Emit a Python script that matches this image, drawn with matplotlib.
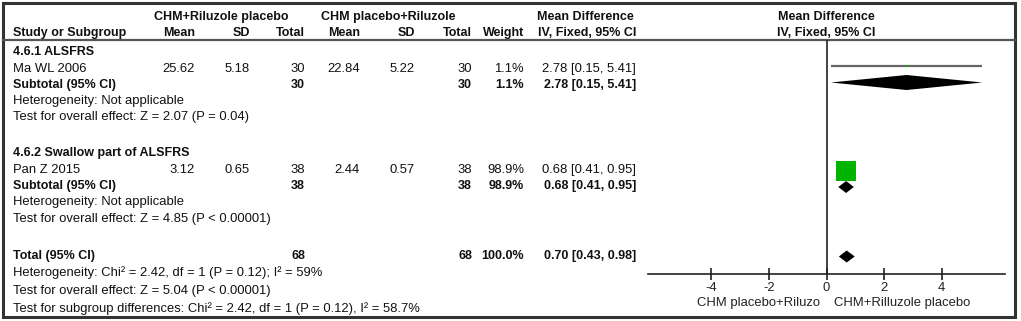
import matplotlib
matplotlib.use('Agg')
import matplotlib.pyplot as plt
import numpy as np

plt.rcParams['font.family'] = ['Liberation Sans', 'DejaVu Sans']
plt.rcParams['axes.unicode_minus'] = False

# ---- data -------------------------------------------------------------
group_exp = "CHM+Riluzole placebo"
group_ctl = "CHM placebo+Riluzole"
subgroups = ["4.6.1 ALSFRS", "4.6.2 Swallow part of ALSFRS"]
studies = ["Ma WL 2006", "Pan Z 2015"]
exp_mean = [25.62, 3.12]
exp_sd = [5.18, 0.65]
exp_n = [30, 38]
ctl_mean = [22.84, 2.44]
ctl_sd = [5.22, 0.57]
ctl_n = [30, 38]
weights = [1.1, 98.9]
md = [2.78, 0.68]
md_lo = [0.15, 0.41]
md_hi = [5.41, 0.95]
sub_het = ["Heterogeneity: Not applicable", "Heterogeneity: Not applicable"]
sub_test = ["Test for overall effect: Z = 2.07 (P = 0.04)",
            "Test for overall effect: Z = 4.85 (P < 0.00001)"]
total_md, total_lo, total_hi = 0.70, 0.43, 0.98
total_exp_n, total_ctl_n = 68, 68
total_notes = ["Heterogeneity: Chi\u00b2 = 2.42, df = 1 (P = 0.12); I\u00b2 = 59%",
               "Test for overall effect: Z = 5.04 (P < 0.00001)",
               "Test for subgroup differences: Chi\u00b2 = 2.42, df = 1 (P = 0.12), I\u00b2 = 58.7%"]
x_ticks = [-4, -2, 0, 2, 4]
favours_left = "CHM placebo+Riluzo"
favours_right = "CHM+Rilluzole placebo"

# ---- layout (pixels) --------------------------------------------------
W, H = 1021, 321
FS = 9.4       # regular text
FS_B = 9.0     # bold text
block_rows = [[52, 69, 85, 101, 117], [153, 170, 186, 202, 219]]
total_rows = [256, 273, 291, 309]
col_x = {'mean1': 195, 'sd1': 250, 'n1': 305, 'mean2': 360, 'sd2': 415,
         'n2': 472, 'w': 524, 'ci': 636}
name_x = 13

fig = plt.figure(figsize=(W / 100, H / 100), dpi=100)
bg = fig.add_axes([0, 0, 1, 1])
bg.set_xlim(0, W)
bg.set_ylim(H, 0)
bg.axis('off')


def txt(x, y, s, ha='left', bold=False):
    bg.text(x, y, s, ha=ha, va='center', fontsize=FS_B if bold else FS,
            fontweight='bold' if bold else 'normal', color='#111111')


# header
txt(221, 17, group_exp, ha='center', bold=True)
txt(388, 17, group_ctl, ha='center', bold=True)
txt(634, 17, "Mean Difference", ha='right', bold=True)
txt(826, 17, "Mean Difference", ha='center', bold=True)
txt(name_x, 33, "Study or Subgroup", bold=True)
for key, lab in [('mean1', 'Mean'), ('sd1', 'SD'), ('n1', 'Total'),
                 ('mean2', 'Mean'), ('sd2', 'SD'), ('n2', 'Total'), ('w', 'Weight')]:
    txt(col_x[key], 33, lab, ha='right', bold=True)
txt(col_x['ci'], 33, "IV, Fixed, 95% CI", ha='right', bold=True)
txt(826, 33, "IV, Fixed, 95% CI", ha='center', bold=True)

# subgroup blocks
for i, rows in enumerate(block_rows):
    y_sg, y_st, y_sub, y_het, y_test = rows
    txt(name_x, y_sg, subgroups[i], bold=True)
    txt(name_x, y_st, studies[i])
    txt(col_x['mean1'], y_st, f"{exp_mean[i]:.2f}", ha='right')
    txt(col_x['sd1'], y_st, f"{exp_sd[i]:.2f}", ha='right')
    txt(col_x['n1'], y_st, f"{exp_n[i]}", ha='right')
    txt(col_x['mean2'], y_st, f"{ctl_mean[i]:.2f}", ha='right')
    txt(col_x['sd2'], y_st, f"{ctl_sd[i]:.2f}", ha='right')
    txt(col_x['n2'], y_st, f"{ctl_n[i]}", ha='right')
    txt(col_x['w'], y_st, f"{weights[i]:.1f}%", ha='right')
    txt(col_x['ci'], y_st, f"{md[i]:.2f} [{md_lo[i]:.2f}, {md_hi[i]:.2f}]", ha='right')
    txt(name_x, y_sub, "Subtotal (95% CI)", bold=True)
    txt(col_x['n1'], y_sub, f"{exp_n[i]}", ha='right', bold=True)
    txt(col_x['n2'], y_sub, f"{ctl_n[i]}", ha='right', bold=True)
    txt(col_x['w'], y_sub, f"{weights[i]:.1f}%", ha='right', bold=True)
    txt(col_x['ci'], y_sub, f"{md[i]:.2f} [{md_lo[i]:.2f}, {md_hi[i]:.2f}]", ha='right', bold=True)
    txt(name_x, y_het, sub_het[i])
    txt(name_x, y_test, sub_test[i])

# total
y_tot = total_rows[0]
txt(name_x, y_tot, "Total (95% CI)", bold=True)
txt(col_x['n1'], y_tot, f"{total_exp_n}", ha='right', bold=True)
txt(col_x['n2'], y_tot, f"{total_ctl_n}", ha='right', bold=True)
txt(col_x['w'], y_tot, f"{sum(weights):.1f}%", ha='right', bold=True)
txt(col_x['ci'], y_tot, f"{total_md:.2f} [{total_lo:.2f}, {total_hi:.2f}]", ha='right', bold=True)
for y, s in zip(total_rows[1:], total_notes):
    txt(name_x, y, s)

# frame and header rule
bg.plot([3, 1015, 1015, 3, 3], [3, 3, 317, 317, 3], color='#333333', lw=2.2,
        solid_joinstyle='miter', clip_on=False)
bg.plot([3, 1015], [39.5, 39.5], color='#555555', lw=1.6)
bg.text(820, 303, favours_left, ha='right', va='center', fontsize=FS, color='#222222')
bg.text(834, 303, favours_right, ha='left', va='center', fontsize=FS, color='#222222')

# ---- forest panel ----------------------------------------------------
x0, x1, y_top, y_axis = 648, 1005, 40, 274
fx = fig.add_axes([x0 / W, (H - y_axis) / H, (x1 - x0) / W, (y_axis - y_top) / H])
fx.set_xlim(-6.2, 6.2)
fx.set_ylim(y_axis, y_top)
fx.patch.set_alpha(0)
for s in ['top', 'right', 'left']:
    fx.spines[s].set_visible(False)
fx.spines['bottom'].set_color('#222222')
fx.spines['bottom'].set_linewidth(1.2)
fx.set_yticks([])
fx.set_xticks(x_ticks)
fx.tick_params(axis='x', direction='inout', length=9, width=1.2, color='#222222',
               labelsize=FS, pad=1, labelcolor='#222222')
fx.axvline(0, color='#222222', lw=1.2)

# study estimates
study_y = [66, 171]
for i in range(len(studies)):
    fx.plot([md_lo[i], md_hi[i]], [study_y[i], study_y[i]], color='#666666', lw=1.6,
            solid_capstyle='butt')
    side_px = 20 * np.sqrt(weights[i] / 100)
    fx.plot(md[i], study_y[i], marker='s', ms=side_px * 0.72, mfc='#00B400',
            mec='#00B400', mew=0, ls='none')


def diamond(est, lo, hi, y, h):
    fx.fill([lo, est, hi, est], [y, y - h, y, y + h], color='black', lw=0)


sub_y = [82.5, 187]
sub_h = [7.5, 6]
for i in range(len(subgroups)):
    diamond(md[i], md_lo[i], md_hi[i], sub_y[i], sub_h[i])
diamond(total_md, total_lo, total_hi, 256.5, 6)

fig.savefig('out.png', dpi=100, facecolor='white')
